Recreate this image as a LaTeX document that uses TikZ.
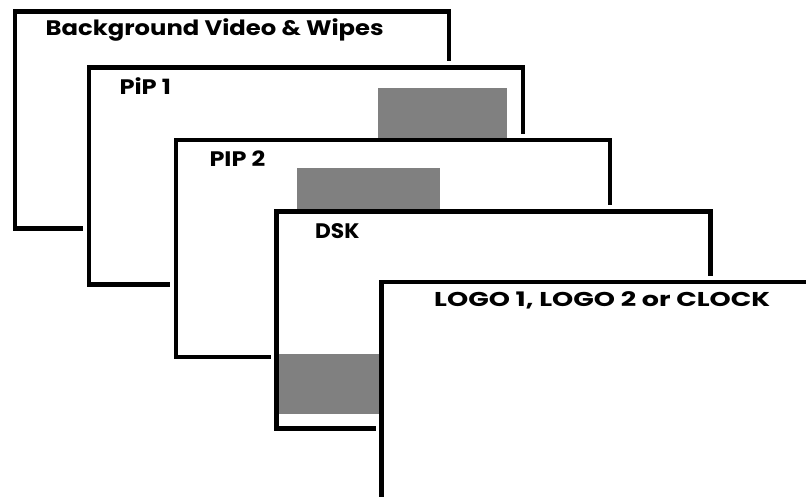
\documentclass[tikz,border=0pt]{standalone}
\usepackage{graphicx}
\usepackage{fontspec}
\setmainfont{Poppins}
\usetikzlibrary{positioning}

\begin{document}
\begin{tikzpicture}[
  x=1pt, y=-1pt,
  layer/.style={draw, fill=white, line width=4.6pt, inner sep=0pt, outer sep=0pt,
    minimum width=434pt, minimum height=217pt, anchor=north west,
    preaction={draw=white, line width=12pt}},
  inset/.style={fill=black!50, draw=none},
  caption/.style={font=\bfseries\fontsize{21}{21}\selectfont, inner sep=0pt, anchor=base west},
]
\useasboundingbox (0,0) rectangle (806,497);
\clip (0,0) rectangle (806,497);

%% Layers, back to front
\node[layer] (bg)   at (15,11.5)   {};
\node[layer] (pip1) at (89,67.5)   {};
\node[layer] (pip2) at (176,140)   {};
\node[layer] (dsk)  at (276.5,211.5) {};
\node[layer, minimum width=450pt, minimum height=240pt] (logo) at (381.5,282) {};

%% Grey windows (visible parts)
\fill[inset] (378,88.3)   rectangle (506.7,137.6);
\fill[inset] (297.3,167.7) rectangle (440,209.2);
\fill[inset] (279,354.3)  rectangle (379.2,414);

%% Captions
\node[caption] (bgtxt)   at ([shift={(30.5,24.2)}]bg.north west)   {\resizebox{338pt}{\height}{Background Video \& Wipes}};
\node[caption] (pip1txt) at ([shift={(30.3,27.5)}]pip1.north west) {\resizebox{51.5pt}{\height}{PiP 1}};
\node[caption] (pip2txt) at ([shift={(33.3,26.7)}]pip2.north west) {\resizebox{55.7pt}{\height}{PIP 2}};
\node[caption] (dsktxt)  at ([shift={(38.5,27.5)}]dsk.north west)  {\resizebox{44.3pt}{\height}{DSK}};
\node[caption, font=\bfseries\fontsize{20}{20}\selectfont] (logotxt) at ([shift={(52.5,24.5)}]logo.north west) {\resizebox{336pt}{\height}{LOGO 1, LOGO 2 or CLOCK}};

\end{tikzpicture}
\end{document}
